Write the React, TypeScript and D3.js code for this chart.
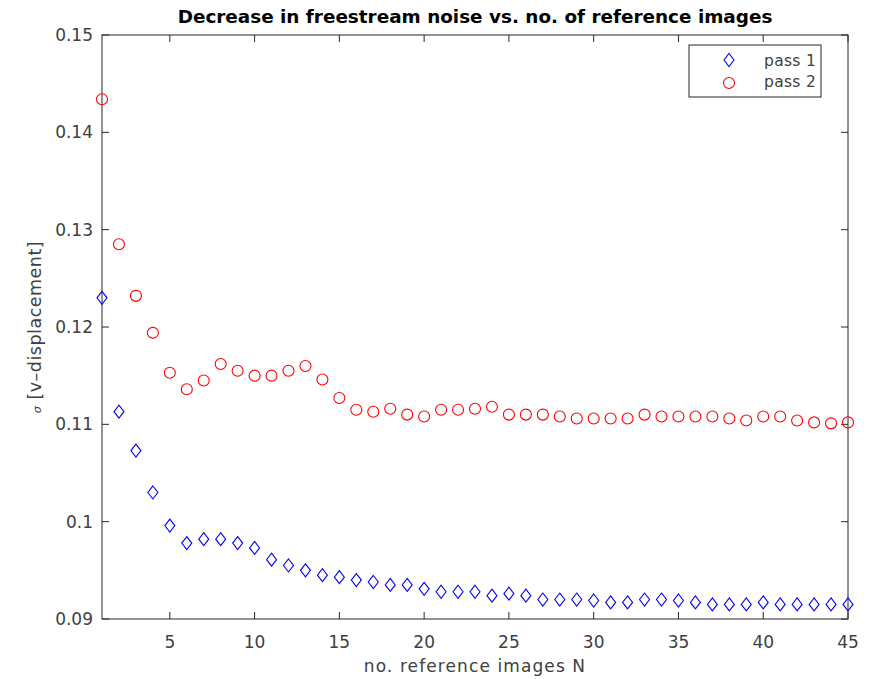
import React from 'react';
import * as d3 from 'd3';

// number of reference images N = 1..45
const nImages = d3.range(1, 46);

// sigma of v-displacement, first pass (blue diamonds)
const pass1 = [
  0.1230, 0.1113, 0.1073, 0.1030, 0.0996, 0.0978, 0.0982, 0.0982, 0.0978, 0.0973,
  0.0961, 0.0955, 0.0950, 0.0945, 0.0943, 0.0940, 0.0938, 0.0935, 0.0935, 0.0931,
  0.0928, 0.0928, 0.0928, 0.0924, 0.0926, 0.0924, 0.0920, 0.0920, 0.0920, 0.0919,
  0.0917, 0.0917, 0.0920, 0.0920, 0.0919, 0.0917, 0.0915, 0.0915, 0.0915, 0.0917,
  0.0915, 0.0915, 0.0915, 0.0915, 0.0915,
];

// second pass (red circles)
const pass2 = [
  0.1434, 0.1285, 0.1232, 0.1194, 0.1153, 0.1136, 0.1145, 0.1162, 0.1155, 0.1150,
  0.1150, 0.1155, 0.1160, 0.1146, 0.1127, 0.1115, 0.1113, 0.1116, 0.1110, 0.1108,
  0.1115, 0.1115, 0.1116, 0.1118, 0.1110, 0.1110, 0.1110, 0.1108, 0.1106, 0.1106,
  0.1106, 0.1106, 0.1110, 0.1108, 0.1108, 0.1108, 0.1108, 0.1106, 0.1104, 0.1108,
  0.1108, 0.1104, 0.1102, 0.1101, 0.1102,
];

const xTicks = [5, 10, 15, 20, 25, 30, 35, 40, 45];
const yTicks = [0.09, 0.1, 0.11, 0.12, 0.13, 0.14, 0.15];
const yTickLabels = ['0.09', '0.1', '0.11', '0.12', '0.13', '0.14', '0.15'];

const legendNames = ['pass 1', 'pass 2'];

const W = 879, H = 679;
const left = 102, right = 848, top = 35, bottom = 619;
const axisColor = '#262626';
const labelColor = '#404040';
const font = '"DejaVu Sans", Verdana, sans-serif';

function Diamond({ cx, cy, color }: { cx: number; cy: number; color: string }) {
  const w = 5, h = 6.5;
  return (
    <path
      d={`M${cx},${cy - h}L${cx + w},${cy}L${cx},${cy + h}L${cx - w},${cy}Z`}
      fill="none"
      stroke={color}
      strokeWidth={1.1}
    />
  );
}

export default function App() {
  const x = d3.scaleLinear().domain([1, 45]).range([left, right]);
  const y = d3.scaleLinear().domain([0.09, 0.15]).range([bottom, top]);
  const tickLen = 7;

  return (
    <svg width={W} height={H} style={{ position: 'absolute', left: 0, top: 0, background: '#fff' }}>
      <rect x={0} y={0} width={W} height={H} fill="#fff" />

      {/* title */}
      <text x={(left + right) / 2} y={23} textAnchor="middle" fontFamily={font} fontWeight="bold" fontSize={18.4} fill="#000">
        Decrease in freestream noise vs. no. of reference images
      </text>

      {/* axes box */}
      <rect x={left} y={top} width={right - left} height={bottom - top} fill="none" stroke={axisColor} strokeWidth={1} />

      {/* x ticks */}
      {xTicks.map((t) => (
        <g key={'x' + t}>
          <line x1={x(t)} x2={x(t)} y1={bottom} y2={bottom - tickLen} stroke={axisColor} />
          <line x1={x(t)} x2={x(t)} y1={top} y2={top + tickLen} stroke={axisColor} />
          <text x={x(t)} y={bottom + 29} textAnchor="middle" fontFamily={font} fontSize={17} fill={labelColor}>
            {t}
          </text>
        </g>
      ))}

      {/* y ticks */}
      {yTicks.map((t, i) => (
        <g key={'y' + t}>
          <line x1={left} x2={left + tickLen} y1={y(t)} y2={y(t)} stroke={axisColor} />
          <line x1={right} x2={right - tickLen} y1={y(t)} y2={y(t)} stroke={axisColor} />
          <text x={left - 9} y={y(t) + 6} textAnchor="end" fontFamily={font} fontSize={17} fill={labelColor}>
            {yTickLabels[i]}
          </text>
        </g>
      ))}

      {/* axis labels */}
      <text x={(left + right) / 2} y={672} textAnchor="middle" fontFamily={font} fontSize={17} letterSpacing={1.1} fill={labelColor}>
        no. reference images N
      </text>
      <text
        transform={`translate(41,${(top + bottom) / 2}) rotate(-90)`}
        textAnchor="middle"
        fontFamily={font}
        fontSize={17.5}
        letterSpacing={0.5}
        fill={labelColor}
      >
        <tspan fontStyle="italic" fontSize={11}>σ</tspan> [v–displacement]
      </text>

      {/* data */}
      {pass2.map((v, i) => (
        <circle key={'p2' + i} cx={x(nImages[i])} cy={y(v)} r={5.5} fill="none" stroke="#ff0000" strokeWidth={1.1} />
      ))}
      {pass1.map((v, i) => (
        <Diamond key={'p1' + i} cx={x(nImages[i])} cy={y(v)} color="#0000ff" />
      ))}

      {/* legend */}
      <g>
        <rect x={689} y={45} width={132} height={52} fill="#fff" stroke={axisColor} strokeWidth={1} />
        <Diamond cx={729} cy={60} color="#0000ff" />
        <circle cx={729} cy={83} r={5.5} fill="none" stroke="#ff0000" strokeWidth={1.1} />
        {legendNames.map((n, i) => (
          <text key={n} x={764} y={66 + i * 21} fontFamily={font} fontSize={15.5} letterSpacing={0.3} fill={labelColor}>
            {n}
          </text>
        ))}
      </g>
    </svg>
  );
}
